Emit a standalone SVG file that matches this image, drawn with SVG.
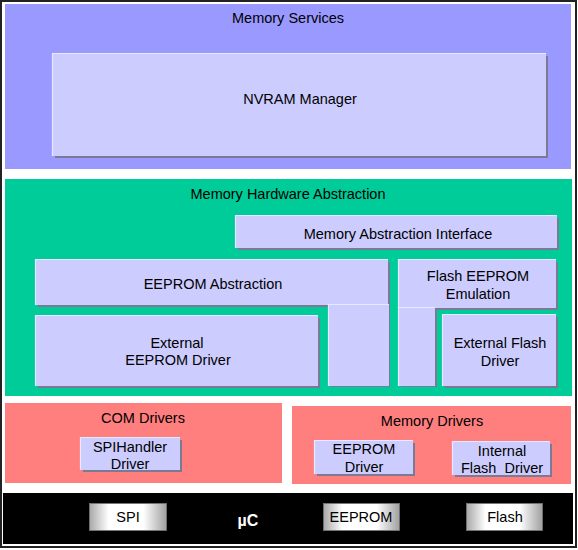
<svg xmlns="http://www.w3.org/2000/svg" width="578" height="550" viewBox="0 0 578 550">
<defs>
<style>
text{font-family:"Liberation Sans",Arial,sans-serif;font-size:14.5px;fill:#000;text-anchor:middle}
.sh{fill:#7a7a94}
.bx{fill:#CCCCFF}
.hl{fill:none;stroke:#e8e8ff;stroke-width:1.2}
.btn{fill:url(#bg);stroke:#777;stroke-width:0.8}
</style>
<linearGradient id="bg" x1="0" y1="0" x2="1" y2="0">
<stop offset="0" stop-color="#a8a8a8"/>
<stop offset="0.25" stop-color="#ffffff"/>
<stop offset="0.7" stop-color="#ffffff"/>
<stop offset="1" stop-color="#a0a0a0"/>
</linearGradient>
</defs>
<rect x="0" y="0" width="578" height="550" fill="#fff"/>
<rect x="1" y="1" width="575" height="546" fill="none" stroke="#222" stroke-width="2"/>

<g id="memory-services">
<rect x="5" y="4" width="566" height="165" fill="#9999FF"/>
<text x="288" y="23">Memory Services</text>
</g>
<g id="nvram-manager">
<rect class="sh" x="55" y="56" width="493" height="102"/>
<rect class="bx" x="52" y="53" width="494" height="103"/>
<path class="hl" d="M52.5 156V53.5H546"/>
<text x="300" y="104">NVRAM Manager</text>
</g>

<g id="memory-hw-abstraction">
<rect x="5" y="179" width="567" height="217" fill="#00CC99"/>
<text x="288" y="199">Memory Hardware Abstraction</text>
</g>
<g id="memory-abstraction-interface">
<rect class="sh" x="238" y="218" width="321" height="32"/>
<rect class="bx" x="235" y="215" width="322" height="33"/>
<path class="hl" d="M235.5 248V215.5H557"/>
<text x="398" y="239">Memory Abstraction Interface</text>
</g>
<g id="eeprom-abstraction">
<rect class="sh" x="38" y="262" width="352" height="45"/>
<rect class="bx" x="35" y="259" width="353" height="46"/>
<path class="hl" d="M35.5 305V259.5H388"/>
<text x="213" y="289">EEPROM Abstraction</text>
</g>
<g id="eeprom-abstraction-ext">
<rect class="sh" x="331" y="306" width="59" height="81"/>
<rect class="bx" x="328" y="304" width="61" height="82"/>
<path class="hl" d="M328.5 386V304.5H389"/>
</g>
<g id="flash-eeprom-emulation">
<rect class="sh" x="401" y="262" width="157" height="48"/>
<rect class="bx" x="398" y="259" width="158" height="49"/>
<path class="hl" d="M398.5 308V259.5H556"/>
<text x="478" y="281">Flash EEPROM</text>
<text x="478" y="299">Emulation</text>
</g>
<g id="flash-eeprom-emulation-ext">
<rect class="sh" x="401" y="309" width="36" height="78"/>
<rect class="bx" x="398" y="307" width="37" height="79"/>
<path class="hl" d="M398.5 386V307.5H435"/>
</g>
<g id="external-eeprom-driver">
<rect class="sh" x="38" y="318" width="282" height="70"/>
<rect class="bx" x="35" y="315" width="283" height="71"/>
<path class="hl" d="M35.5 386V315.5H318"/>
<text x="177" y="348">External</text>
<text x="178" y="365">EEPROM Driver</text>
</g>
<g id="external-flash-driver">
<rect class="sh" x="445" y="317" width="113" height="71"/>
<rect class="bx" x="442" y="314" width="114" height="72"/>
<path class="hl" d="M442.5 386V314.5H556"/>
<text x="500" y="348">External Flash</text>
<text x="500" y="366">Driver</text>
</g>

<g id="com-drivers">
<rect x="5" y="403" width="277" height="80" fill="#FF7F7F"/>
<text x="143" y="423">COM Drivers</text>
</g>
<g id="spihandler-driver">
<rect class="sh" x="83" y="440" width="99" height="32"/>
<rect class="bx" x="80" y="437" width="100" height="33"/>
<path class="hl" d="M80.5 470V437.5H180"/>
<text x="130" y="452">SPIHandler</text>
<text x="130" y="469">Driver</text>
</g>
<g id="memory-drivers">
<rect x="292" y="406" width="279" height="78" fill="#FF7F7F"/>
<text x="432" y="426">Memory Drivers</text>
</g>
<g id="eeprom-driver">
<rect class="sh" x="317" y="443" width="98" height="33"/>
<rect class="bx" x="314" y="440" width="99" height="34"/>
<path class="hl" d="M314.5 474V440.5H413"/>
<text x="364" y="454">EEPROM</text>
<text x="364" y="472">Driver</text>
</g>
<g id="internal-flash-driver">
<rect class="sh" x="455" y="444" width="97" height="33"/>
<rect class="bx" x="452" y="441" width="98" height="34"/>
<path class="hl" d="M452.5 475V441.5H550"/>
<text x="502" y="456">Internal</text>
<text x="502" y="473" style="white-space:pre">Flash  Driver</text>
</g>

<g id="uc">
<rect x="3" y="493" width="570" height="51" fill="#000"/>
<text x="248" y="526" style="fill:#fff;font-weight:bold;font-size:16px">µC</text>
</g>
<g id="spi">
<rect class="btn" x="89.5" y="503.5" width="77" height="27"/>
<text x="128" y="522">SPI</text>
</g>
<g id="eeprom">
<rect class="btn" x="323.5" y="503.5" width="76" height="27"/>
<text x="361" y="522">EEPROM</text>
</g>
<g id="flash">
<rect class="btn" x="466.5" y="503.5" width="76" height="27"/>
<text x="505" y="522">Flash</text>
</g>
<g id="connectors"></g>
</svg>
